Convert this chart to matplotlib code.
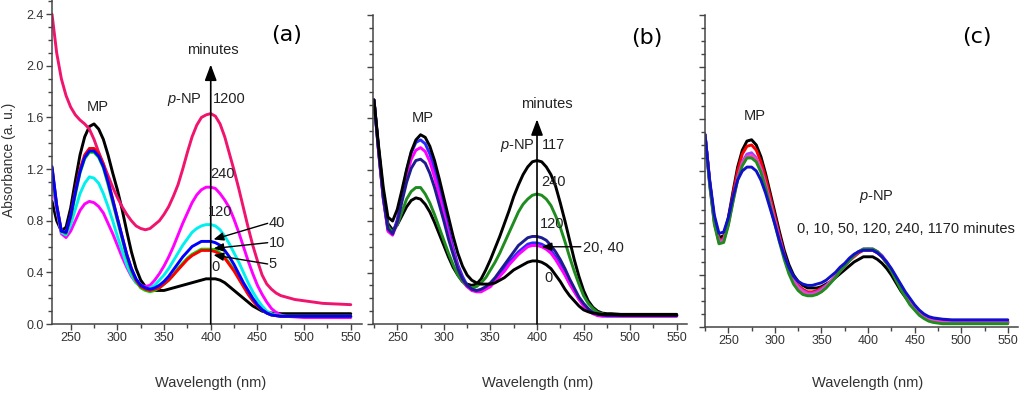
import matplotlib
matplotlib.use("Agg")
import matplotlib.pyplot as plt
from matplotlib.ticker import MultipleLocator, NullFormatter

plt.rcParams['font.family'] = ['Liberation Sans', 'DejaVu Sans']
plt.rcParams['mathtext.fontset'] = 'custom'
plt.rcParams['mathtext.it'] = 'Liberation Sans:italic'
plt.rcParams['mathtext.rm'] = 'Liberation Sans'

# wavelength grids (nm)
wl_a = list(range(230, 481, 5)) + [490, 500, 520, 550]
wl_bc = list(range(225, 481, 5)) + [490, 500, 520, 550]

# ---- panel (a): absorbance vs time (minutes)
a_0 = [0.95, 0.80, 0.72, 0.75, 0.90, 1.11, 1.31, 1.45, 1.53, 1.55,
       1.51, 1.43, 1.31, 1.17, 1.04, 0.89, 0.72, 0.56, 0.43, 0.34,
       0.29, 0.27, 0.26, 0.26, 0.26, 0.27, 0.28, 0.29, 0.30, 0.31,
       0.32, 0.33, 0.34, 0.35, 0.35, 0.35, 0.34, 0.32, 0.29, 0.26,
       0.23, 0.20, 0.17, 0.14, 0.12, 0.10, 0.09, 0.085, 0.085, 0.08,
       0.08, 0.08, 0.08, 0.08, 0.08]
a_5 = [1.20, 0.91, 0.72, 0.70, 0.82, 1.00, 1.17, 1.28, 1.33, 1.33,
       1.29, 1.21, 1.08, 0.94, 0.80, 0.66, 0.52, 0.41, 0.33, 0.28,
       0.26, 0.25, 0.26, 0.28, 0.31, 0.34, 0.38, 0.43, 0.47, 0.51,
       0.54, 0.56, 0.58, 0.58, 0.58, 0.575, 0.55, 0.52, 0.47, 0.42,
       0.36, 0.30, 0.24, 0.19, 0.145, 0.11, 0.085, 0.07, 0.065, 0.06,
       0.06, 0.06, 0.06, 0.06, 0.06]
a_10 = [1.21, 0.92, 0.72, 0.71, 0.84, 1.03, 1.20, 1.31, 1.36, 1.36,
        1.32, 1.24, 1.11, 0.97, 0.82, 0.68, 0.54, 0.43, 0.34, 0.29,
        0.27, 0.26, 0.27, 0.28, 0.31, 0.34, 0.38, 0.42, 0.46, 0.50,
        0.53, 0.55, 0.57, 0.57, 0.57, 0.56, 0.54, 0.51, 0.46, 0.41,
        0.35, 0.29, 0.23, 0.18, 0.14, 0.11, 0.085, 0.07, 0.065, 0.06,
        0.06, 0.06, 0.06, 0.06, 0.06]
a_40 = [1.22, 0.92, 0.72, 0.71, 0.84, 1.02, 1.18, 1.29, 1.34, 1.34,
        1.30, 1.22, 1.10, 0.96, 0.82, 0.68, 0.54, 0.43, 0.35, 0.30,
        0.28, 0.27, 0.28, 0.30, 0.33, 0.37, 0.42, 0.47, 0.52, 0.56,
        0.60, 0.62, 0.64, 0.64, 0.64, 0.63, 0.61, 0.57, 0.52, 0.46,
        0.39, 0.32, 0.26, 0.20, 0.15, 0.11, 0.085, 0.07, 0.065, 0.06,
        0.06, 0.06, 0.06, 0.06, 0.06]
a_120 = [1.17, 0.90, 0.71, 0.69, 0.77, 0.89, 1.01, 1.09, 1.14, 1.13,
         1.09, 1.01, 0.91, 0.80, 0.68, 0.57, 0.46, 0.38, 0.32, 0.29,
         0.27, 0.28, 0.30, 0.34, 0.38, 0.43, 0.49, 0.55, 0.61, 0.66,
         0.71, 0.74, 0.76, 0.77, 0.77, 0.76, 0.73, 0.68, 0.62, 0.55,
         0.48, 0.40, 0.32, 0.25, 0.19, 0.14, 0.10, 0.08, 0.07, 0.065,
         0.06, 0.06, 0.06, 0.06, 0.06]
a_240 = [1.13, 0.88, 0.70, 0.67, 0.72, 0.80, 0.88, 0.93, 0.95, 0.94,
         0.91, 0.86, 0.78, 0.70, 0.61, 0.52, 0.44, 0.37, 0.32, 0.30,
         0.29, 0.30, 0.34, 0.39, 0.45, 0.52, 0.60, 0.69, 0.78, 0.86,
         0.94, 1.00, 1.04, 1.06, 1.06, 1.05, 1.01, 0.96, 0.90, 0.81,
         0.71, 0.60, 0.49, 0.39, 0.30, 0.23, 0.17, 0.12, 0.09, 0.07,
         0.06, 0.055, 0.05, 0.05, 0.05]
a_1200 = [2.40, 2.10, 1.90, 1.77, 1.68, 1.62, 1.58, 1.55, 1.51, 1.43,
          1.33, 1.24, 1.15, 1.06, 0.98, 0.91, 0.85, 0.80, 0.76, 0.74,
          0.73, 0.74, 0.77, 0.80, 0.85, 0.91, 0.99, 1.08, 1.20, 1.33,
          1.45, 1.54, 1.60, 1.62, 1.63, 1.61, 1.55, 1.45, 1.32, 1.19,
          1.05, 0.90, 0.75, 0.61, 0.49, 0.38, 0.31, 0.27, 0.24, 0.22,
          0.21, 0.19, 0.18, 0.16, 0.15]

# ---- panel (b)
b_0 = [1.74, 1.38, 1.06, 0.83, 0.80, 0.89, 1.04, 1.20, 1.34, 1.43,
       1.47, 1.45, 1.38, 1.27, 1.13, 0.98, 0.83, 0.68, 0.55, 0.45,
       0.38, 0.34, 0.32, 0.31, 0.31, 0.31, 0.32, 0.34, 0.36, 0.39,
       0.42, 0.44, 0.46, 0.48, 0.49, 0.49, 0.48, 0.46, 0.43, 0.38,
       0.33, 0.27, 0.22, 0.18, 0.14, 0.11, 0.095, 0.085, 0.08, 0.075,
       0.075, 0.075, 0.07, 0.07, 0.07, 0.07]
b_20 = [1.74, 1.33, 0.97, 0.72, 0.69, 0.79, 0.97, 1.15, 1.28, 1.35,
        1.37, 1.34, 1.26, 1.14, 1.00, 0.85, 0.70, 0.56, 0.44, 0.35,
        0.29, 0.26, 0.25, 0.25, 0.27, 0.29, 0.33, 0.37, 0.41, 0.46,
        0.50, 0.54, 0.57, 0.60, 0.61, 0.61, 0.60, 0.58, 0.55, 0.50,
        0.44, 0.38, 0.31, 0.25, 0.19, 0.14, 0.10, 0.08, 0.065, 0.06,
        0.06, 0.06, 0.06, 0.06, 0.06, 0.06]
b_40 = [1.74, 1.34, 0.98, 0.73, 0.70, 0.81, 1.00, 1.19, 1.33, 1.41,
        1.43, 1.40, 1.32, 1.20, 1.05, 0.90, 0.74, 0.59, 0.46, 0.37,
        0.30, 0.27, 0.26, 0.26, 0.28, 0.30, 0.34, 0.38, 0.43, 0.48,
        0.52, 0.56, 0.59, 0.62, 0.63, 0.63, 0.62, 0.60, 0.57, 0.52,
        0.46, 0.39, 0.32, 0.26, 0.20, 0.15, 0.11, 0.085, 0.07, 0.065,
        0.065, 0.065, 0.065, 0.065, 0.065, 0.065]
b_120 = [1.74, 1.34, 0.98, 0.74, 0.70, 0.79, 0.95, 1.10, 1.21, 1.27,
         1.28, 1.25, 1.17, 1.06, 0.93, 0.80, 0.66, 0.54, 0.43, 0.35,
         0.30, 0.27, 0.26, 0.27, 0.29, 0.32, 0.36, 0.41, 0.46, 0.51,
         0.56, 0.61, 0.64, 0.67, 0.68, 0.68, 0.67, 0.65, 0.61, 0.56,
         0.50, 0.43, 0.35, 0.28, 0.21, 0.16, 0.12, 0.09, 0.075, 0.07,
         0.065, 0.065, 0.065, 0.065, 0.065, 0.065]
b_240 = [1.74, 1.35, 1.00, 0.76, 0.71, 0.77, 0.87, 0.97, 1.03, 1.06,
         1.06, 1.01, 0.94, 0.85, 0.75, 0.65, 0.55, 0.46, 0.38, 0.33,
         0.29, 0.28, 0.29, 0.32, 0.36, 0.42, 0.48, 0.55, 0.63, 0.71,
         0.79, 0.87, 0.93, 0.97, 1.00, 1.01, 1.00, 0.97, 0.92, 0.84,
         0.75, 0.64, 0.52, 0.41, 0.31, 0.22, 0.16, 0.12, 0.09, 0.08,
         0.07, 0.07, 0.065, 0.065, 0.065, 0.065]
b_117 = [1.74, 1.36, 1.02, 0.78, 0.73, 0.77, 0.84, 0.91, 0.96, 0.98,
         0.97, 0.93, 0.87, 0.79, 0.70, 0.61, 0.52, 0.44, 0.38, 0.33,
         0.31, 0.30, 0.31, 0.35, 0.42, 0.50, 0.59, 0.68, 0.78, 0.88,
         0.99, 1.08, 1.16, 1.22, 1.26, 1.27, 1.26, 1.22, 1.16, 1.07,
         0.94, 0.80, 0.65, 0.50, 0.37, 0.26, 0.18, 0.13, 0.10, 0.085,
         0.08, 0.08, 0.075, 0.075, 0.075, 0.075]

# ---- panel (c)
c_0 = [1.48, 1.12, 0.83, 0.69, 0.70, 0.84, 1.04, 1.23, 1.36, 1.43,
       1.44, 1.40, 1.31, 1.18, 1.03, 0.88, 0.73, 0.59, 0.48, 0.40,
       0.35, 0.32, 0.30, 0.30, 0.30, 0.31, 0.33, 0.35, 0.38, 0.41,
       0.44, 0.47, 0.50, 0.52, 0.54, 0.54, 0.54, 0.52, 0.49, 0.45,
       0.40, 0.34, 0.28, 0.23, 0.18, 0.14, 0.11, 0.08, 0.065, 0.055,
       0.05, 0.045, 0.04, 0.04, 0.04, 0.04]
c_10 = [1.48, 1.11, 0.82, 0.67, 0.68, 0.82, 1.02, 1.20, 1.33, 1.39,
        1.40, 1.36, 1.27, 1.15, 1.00, 0.85, 0.70, 0.56, 0.45, 0.37,
        0.32, 0.29, 0.27, 0.27, 0.28, 0.30, 0.32, 0.35, 0.39, 0.43,
        0.47, 0.51, 0.54, 0.57, 0.59, 0.59, 0.59, 0.57, 0.54, 0.49,
        0.44, 0.37, 0.31, 0.25, 0.19, 0.15, 0.11, 0.085, 0.065, 0.05,
        0.045, 0.04, 0.035, 0.035, 0.035, 0.035]
c_50 = [1.48, 1.11, 0.81, 0.66, 0.67, 0.80, 0.98, 1.15, 1.27, 1.33,
        1.34, 1.30, 1.22, 1.10, 0.96, 0.82, 0.68, 0.55, 0.44, 0.36,
        0.31, 0.28, 0.26, 0.26, 0.27, 0.29, 0.32, 0.35, 0.39, 0.43,
        0.47, 0.51, 0.55, 0.58, 0.60, 0.60, 0.60, 0.58, 0.55, 0.50,
        0.44, 0.38, 0.31, 0.25, 0.20, 0.15, 0.11, 0.085, 0.065, 0.05,
        0.045, 0.04, 0.035, 0.035, 0.035, 0.035]
c_120 = [1.48, 1.10, 0.80, 0.65, 0.66, 0.79, 0.97, 1.14, 1.26, 1.31,
         1.32, 1.29, 1.21, 1.09, 0.95, 0.81, 0.67, 0.54, 0.43, 0.35,
         0.30, 0.27, 0.25, 0.25, 0.26, 0.28, 0.31, 0.35, 0.39, 0.43,
         0.47, 0.51, 0.55, 0.58, 0.59, 0.60, 0.59, 0.58, 0.54, 0.50,
         0.44, 0.37, 0.31, 0.24, 0.19, 0.14, 0.10, 0.075, 0.055, 0.045,
         0.04, 0.035, 0.03, 0.03, 0.03, 0.03]
c_240 = [1.47, 1.09, 0.79, 0.64, 0.65, 0.78, 0.96, 1.13, 1.24, 1.30,
         1.30, 1.27, 1.19, 1.07, 0.93, 0.79, 0.65, 0.52, 0.41, 0.33,
         0.28, 0.25, 0.24, 0.24, 0.25, 0.27, 0.30, 0.34, 0.38, 0.43,
         0.47, 0.51, 0.55, 0.58, 0.60, 0.60, 0.60, 0.58, 0.54, 0.49,
         0.43, 0.36, 0.29, 0.23, 0.17, 0.13, 0.09, 0.065, 0.045, 0.035,
         0.03, 0.025, 0.025, 0.025, 0.025, 0.025]
c_1170 = [1.48, 1.13, 0.86, 0.72, 0.73, 0.84, 1.00, 1.13, 1.20, 1.23,
          1.23, 1.20, 1.13, 1.03, 0.91, 0.79, 0.66, 0.55, 0.46, 0.39,
          0.35, 0.33, 0.32, 0.32, 0.33, 0.34, 0.36, 0.39, 0.42, 0.46,
          0.49, 0.53, 0.56, 0.58, 0.59, 0.59, 0.59, 0.57, 0.54, 0.50,
          0.45, 0.39, 0.33, 0.27, 0.22, 0.17, 0.13, 0.10, 0.08, 0.07,
          0.065, 0.06, 0.055, 0.055, 0.055, 0.055]

series_a = [(a_0, 'black'), (a_1200, '#f0146e'), (a_240, '#ff00ff'), (a_120, '#00f0f0'),
            (a_5, '#00dd00'), (a_10, '#ff0000'), (a_40, '#0000ff')]
series_b = [(b_117, 'black'), (b_240, '#1e8c1e'), (b_40, '#2a2aff'), (b_20, '#ff00ff'),
            (b_120, '#1c1c90'), (b_0, 'black')]
series_c = [(c_0, 'black'), (c_10, '#ff0000'), (c_50, '#a040ff'), (c_120, '#ff40c0'),
            (c_240, '#1e8c1e'), (c_1170, '#1010c8')]

fig = plt.figure(figsize=(10.24, 3.95), dpi=100)
ax_a = fig.add_axes([0.0508, 0.1797, 0.3027, 0.8203])
ax_b = fig.add_axes([0.3643, 0.1797, 0.3066, 0.7823])
ax_c = fig.add_axes([0.6885, 0.1722, 0.3057, 0.7899])

for ax, wl, series, xlim, ylim in [(ax_a, wl_a, series_a, (230, 562), (0, 2.51)),
                                   (ax_b, wl_bc, series_b, (224, 561), (0, 2.40)),
                                   (ax_c, wl_bc, series_c, (225, 561), (0, 2.40))]:
    for y, col in series:
        ax.plot(wl, y, color=col, lw=2.1, solid_capstyle='round')
    ax.set_xlim(*xlim)
    ax.set_ylim(*ylim)
    for s in ['top', 'right']:
        ax.spines[s].set_visible(False)
    for s in ['left', 'bottom']:
        ax.spines[s].set_color('#444444')
        ax.spines[s].set_linewidth(1.1)
    ax.xaxis.set_major_locator(MultipleLocator(50))
    ax.xaxis.set_minor_locator(MultipleLocator(25))
    ax.yaxis.set_major_locator(MultipleLocator(0.4))
    ax.yaxis.set_minor_locator(MultipleLocator(0.1))
    ax.tick_params(which='both', direction='out', color='#444444', width=1.0,
                   labelsize=9, labelcolor='#333333', pad=2)
    ax.tick_params(which='major', length=4)
    ax.tick_params(which='minor', length=3)
    ax.patch.set_alpha(0)

ax_a.yaxis.set_major_formatter(matplotlib.ticker.FormatStrFormatter('%.1f'))
ax_b.yaxis.set_major_formatter(NullFormatter())
ax_c.yaxis.set_major_formatter(NullFormatter())

# axis titles
fig.text(0.009, 0.595, 'Absorbance (a. u.)', rotation=90, ha='center', va='center',
         fontsize=10, color='#333333')
for xc in [0.206, 0.525, 0.847]:
    fig.text(xc, 0.030, 'Wavelength (nm)', ha='center', va='center', fontsize=10.5,
             color='#333333')

ann = dict(fontsize=10.5, color='#222222')
pnp = r'$p$-NP'

# panel (a) annotations
ax_a.text(481.5, 2.24, '(a)', family='DejaVu Sans', fontsize=16, ha='center', va='center')
ax_a.text(279, 1.68, 'MP', ha='center', va='center', **ann)
ax_a.text(391, 1.74, pnp, ha='right', va='center', **ann)
ax_a.text(402.5, 1.74, '1200', ha='left', va='center', **ann)
ax_a.text(402, 2.12, 'minutes', ha='center', va='center', **ann)
ax_a.annotate('', xy=(400, 2.01), xytext=(400, 0),
              arrowprops=dict(arrowstyle='-|>,head_length=0.8,head_width=0.3',
                              color='black', lw=1.2, shrinkA=0, shrinkB=0, mutation_scale=12))
ax_a.text(399, 1.16, '240', ha='left', va='center', **ann)
ax_a.text(397, 0.87, '120', ha='left', va='center', **ann)
ax_a.text(401, 0.44, '0', ha='left', va='center', **ann)
for lab, ty, py in [('40', 0.78, 0.655), ('10', 0.63, 0.585), ('5', 0.465, 0.535)]:
    ax_a.text(462, ty, lab, ha='left', va='center', **ann)
    ax_a.annotate('', xy=(403, py), xytext=(461, ty),
                  arrowprops=dict(arrowstyle='-|>,head_length=0.6,head_width=0.25',
                                  color='black', lw=1.0, shrinkA=0, shrinkB=0,
                                  mutation_scale=10))

# panel (b) annotations
ax_b.text(517.7, 2.22, '(b)', family='DejaVu Sans', fontsize=16, ha='center', va='center')
ax_b.text(277.6, 1.60, 'MP', ha='center', va='center', **ann)
ax_b.text(410.5, 1.71, 'minutes', ha='center', va='center', **ann)
ax_b.annotate('', xy=(400, 1.59), xytext=(400, 0),
              arrowprops=dict(arrowstyle='-|>,head_length=0.8,head_width=0.3',
                              color='black', lw=1.2, shrinkA=0, shrinkB=0, mutation_scale=12))
ax_b.text(397.6, 1.39, pnp, ha='right', va='center', **ann)
ax_b.text(405, 1.39, '117', ha='left', va='center', **ann)
ax_b.text(405, 1.10, '240', ha='left', va='center', **ann)
ax_b.text(403, 0.78, '120', ha='left', va='center', **ann)
ax_b.text(408, 0.36, '0', ha='left', va='center', **ann)
ax_b.text(449, 0.59, '20, 40', ha='left', va='center', **ann)
ax_b.annotate('', xy=(405, 0.60), xytext=(447, 0.60),
              arrowprops=dict(arrowstyle='-|>,head_length=0.6,head_width=0.25',
                              color='black', lw=1.0, shrinkA=0, shrinkB=0, mutation_scale=10))

# panel (c) annotations
ax_c.text(516.5, 2.23, '(c)', family='DejaVu Sans', fontsize=16, ha='center', va='center')
ax_c.text(278.6, 1.62, 'MP', ha='center', va='center', **ann)
ax_c.text(409, 1.00, pnp, ha='center', va='center', **ann)
ax_c.text(440.4, 0.75, '0, 10, 50, 120, 240, 1170 minutes', ha='center', va='center', **ann)

fig.savefig('out.png', dpi=100)
